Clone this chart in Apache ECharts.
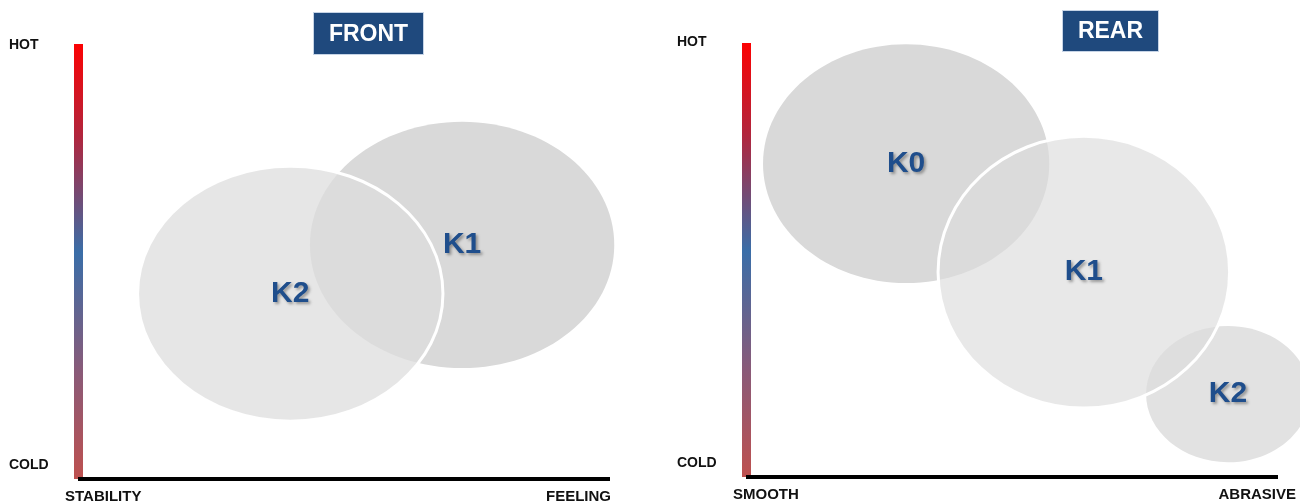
<!DOCTYPE html>
<html>
<head>
<meta charset="utf-8">
<title>FRONT / REAR</title>
<script src="https://cdn.jsdelivr.net/npm/echarts@6/dist/echarts.min.js"></script>
<style>
  html, body { margin: 0; padding: 0; background: #fff; }
  #chart { width: 1300px; height: 501px; }
</style>
</head>
<body>
<div id="chart"></div>
<script>
// cluster data, axis units 0..100 on both panels
const frontNames = ['K1', 'K2']
const frontX = [72.2, 39.9]
const frontY = [53.8, 42.6]
const frontRx = [28.6, 28.7]
const frontRy = [28.3, 29.3]

const rearNames = ['K0', 'K2', 'K1']
const rearX = [30.1, 90.6, 63.5]
const rearY = [72.2, 19.1, 47.2]
const rearRx = [26.9, 15.4, 27.4]
const rearRy = [27.5, 15.7, 31.3]

const panelTitles = ['FRONT', 'REAR']
const yLabels = ['HOT', 'COLD']
const frontXLabels = ['STABILITY', 'FEELING']
const rearXLabels = ['SMOOTH', 'ABRASIVE']

// fill per cluster (style only)
const ellipseStyle = {
    front: {
        K1: { fill: '#d9d9d9', stroke: null },
        K2: { fill: 'rgba(221,221,221,0.74)', stroke: '#fff' }
    },
    rear: {
        K0: { fill: '#d9d9d9', stroke: null },
        K2: { fill: '#e2e2e2', stroke: null },
        K1: { fill: 'rgba(220,220,220,0.66)', stroke: '#fff' }
    }
}

const buildRows = (names, xs, ys, rxs, rys) =>
    names.map((name, i) => [xs[i], ys[i], rxs[i], rys[i], name])

const heatGradient = new echarts.graphic.LinearGradient(0, 0, 0, 1, [
    { offset: 0, color: '#ff0000' },
    { offset: 0.22, color: '#b0263e' },
    { offset: 0.48, color: '#3a6ea8' },
    { offset: 0.75, color: '#8a5a78' },
    { offset: 1, color: '#c0504d' }
])

function makeRender(styles) {
    return function (params, api) {
        const name = api.value(4)
        const c = api.coord([api.value(0), api.value(1)])
        const s = api.size([api.value(2), api.value(3)])
        const st = styles[name]
        return {
            type: 'group',
            children: [
                {
                    type: 'ellipse',
                    shape: { cx: c[0], cy: c[1], rx: s[0], ry: s[1] },
                    style: {
                        fill: st.fill,
                        stroke: st.stroke || 'none',
                        lineWidth: st.stroke ? 3 : 0
                    }
                },
                {
                    type: 'text',
                    x: c[0],
                    y: c[1],
                    style: {
                        text: name,
                        fill: '#1f4e8c',
                        font: 'bold 30px "Liberation Sans", Arial, sans-serif',
                        align: 'center',
                        verticalAlign: 'middle',
                        textShadowColor: 'rgba(0,0,0,0.35)',
                        textShadowBlur: 3,
                        textShadowOffsetX: 2,
                        textShadowOffsetY: 2
                    }
                }
            ]
        }
    }
}

function axisPair(gridIndex) {
    return {
        x: {
            type: 'value', gridIndex, min: 0, max: 100,
            axisLine: { show: true, lineStyle: { color: '#000', width: 4, cap: 'butt' } },
            axisTick: { show: false }, axisLabel: { show: false }, splitLine: { show: false }
        },
        y: {
            type: 'value', gridIndex, min: 0, max: 100,
            axisLine: { show: true, lineStyle: { color: heatGradient, width: 9, cap: 'butt' } },
            axisTick: { show: false }, axisLabel: { show: false }, splitLine: { show: false }
        }
    }
}

function titleBox(x, y, w, h, text) {
    return {
        type: 'group', left: x, top: y,
        children: [
            { type: 'rect', shape: { x: 0, y: 0, width: w, height: h }, style: { fill: '#1f497d', stroke: '#c6d4e6', lineWidth: 1 } },
            {
                type: 'text', x: w / 2, y: h / 2 + 1,
                style: { text, fill: '#fff', font: 'bold 23px "Liberation Sans", Arial, sans-serif', align: 'center', verticalAlign: 'middle' }
            }
        ]
    }
}

function sideText(x, y, text, align, size) {
    return {
        type: 'text', x, y,
        style: {
            text, fill: '#111',
            font: 'bold ' + (size || 14) + 'px "Liberation Sans", Arial, sans-serif',
            align: align || 'left', verticalAlign: 'middle'
        }
    }
}

const a0 = axisPair(0)
const a1 = axisPair(1)

const chart = echarts.init(document.getElementById('chart'))
chart.setOption({
    animation: false,
    grid: [
        { left: 78, top: 44, width: 532, height: 435 },
        { left: 746, top: 43, width: 532, height: 434 }
    ],
    xAxis: [a0.x, a1.x],
    yAxis: [a0.y, a1.y],
    series: [
        {
            type: 'custom', xAxisIndex: 0, yAxisIndex: 0, clip: false,
            renderItem: makeRender(ellipseStyle.front),
            data: buildRows(frontNames, frontX, frontY, frontRx, frontRy)
        },
        {
            type: 'custom', xAxisIndex: 1, yAxisIndex: 1, clip: false,
            renderItem: makeRender(ellipseStyle.rear),
            data: buildRows(rearNames, rearX, rearY, rearRx, rearRy)
        }
    ],
    graphic: [
        titleBox(313, 12, 110, 42, panelTitles[0]),
        titleBox(1062, 10, 96, 41, panelTitles[1]),
        sideText(9, 45, yLabels[0]),
        sideText(9, 465, yLabels[1]),
        sideText(65, 497, frontXLabels[0], 'left', 15),
        sideText(611, 497, frontXLabels[1], 'right', 15),
        sideText(677, 42, yLabels[0]),
        sideText(677, 463, yLabels[1]),
        sideText(733, 495, rearXLabels[0], 'left', 15),
        sideText(1296, 495, rearXLabels[1], 'right', 15)
    ]
})
</script>
</body>
</html>
